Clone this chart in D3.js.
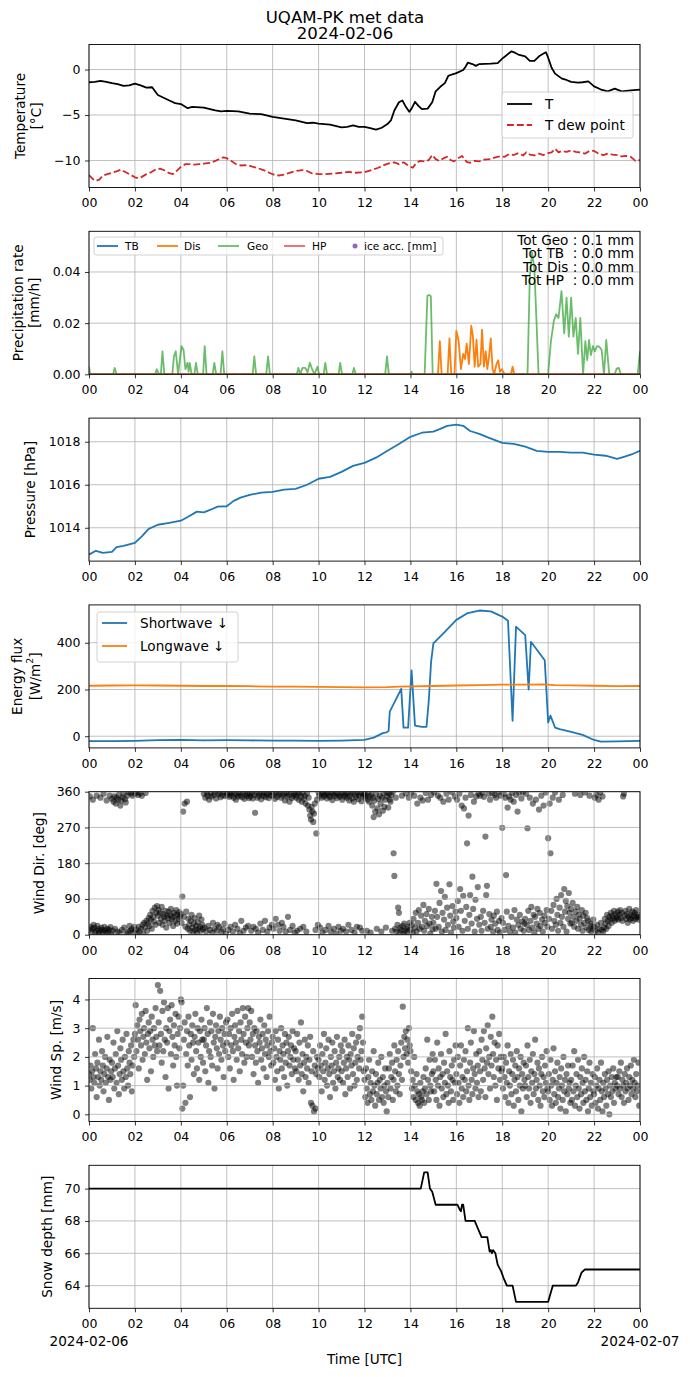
<!DOCTYPE html>
<html><head><meta charset="utf-8">
<script src="https://cdn.jsdelivr.net/npm/d3@7"></script>
<style>body{margin:0;background:#fff} text{font-family:"DejaVu Sans",sans-serif}</style>
</head><body><svg id="c" width="690" height="1377" xmlns="http://www.w3.org/2000/svg"></svg>
<script>
// ---------------- DATA ----------------
const xTickHours = [0,2,4,6,8,10,12,14,16,18,20,22,24];
const xTickLabels = ["00","02","04","06","08","10","12","14","16","18","20","22","00"];
const dateLabels = ["2024-02-06","2024-02-07"];

const tempT = [[0,-1.4],[0.25,-1.35],[0.5,-1.25],[0.75,-1.35],[1,-1.5],[1.25,-1.6],[1.5,-1.8],[1.75,-1.75],[2,-1.55],[2.25,-1.75],[2.5,-2.0],[2.75,-1.95],[3,-2.8],[3.25,-3.1],[3.5,-3.4],[3.75,-3.7],[4,-3.8],[4.3,-4.25],[4.5,-4.1],[5,-4.2],[5.5,-4.5],[5.75,-4.6],[6,-4.55],[6.5,-4.6],[7,-4.85],[7.5,-4.9],[8,-5.2],[8.5,-5.4],[9,-5.6],[9.5,-5.9],[9.75,-5.85],[10,-5.95],[10.5,-6.05],[11,-6.35],[11.25,-6.3],[11.5,-6.15],[11.75,-6.3],[12,-6.3],[12.25,-6.45],[12.5,-6.6],[12.75,-6.4],[13,-6.0],[13.15,-5.6],[13.3,-4.5],[13.5,-3.6],[13.65,-3.4],[13.8,-4.1],[13.95,-4.65],[14.05,-4.3],[14.2,-3.55],[14.35,-4.0],[14.5,-4.35],[14.75,-4.3],[14.95,-3.6],[15.1,-2.4],[15.3,-1.9],[15.5,-1.5],[15.65,-0.7],[15.8,-0.55],[16,-0.4],[16.3,-0.05],[16.4,0.3],[16.5,0.75],[16.7,0.6],[16.85,0.4],[17,0.6],[17.5,0.65],[17.8,0.7],[18,1.2],[18.2,1.6],[18.4,2.0],[18.55,1.85],[18.7,1.65],[19,1.45],[19.2,0.95],[19.4,0.95],[19.6,1.45],[19.8,1.75],[19.9,1.9],[20,1.3],[20.15,0.2],[20.3,-0.45],[20.6,-1.0],[20.8,-1.15],[21,-1.35],[21.3,-1.45],[21.5,-1.4],[21.75,-1.3],[22,-1.85],[22.3,-2.2],[22.6,-2.4],[22.9,-2.1],[23.2,-2.4],[23.6,-2.3],[24,-2.2]];
const tempTd = [[0,-11.6],[0.15,-12.0],[0.3,-12.25],[0.45,-12.1],[0.6,-11.65],[0.8,-11.5],[1,-11.35],[1.2,-11.2],[1.4,-11.0],[1.6,-11.3],[1.8,-11.55],[2,-11.85],[2.15,-11.95],[2.3,-11.8],[2.5,-11.5],[2.7,-11.3],[2.9,-11.0],[3.1,-10.9],[3.3,-11.1],[3.5,-11.4],[3.65,-11.5],[3.8,-11.2],[4,-10.7],[4.2,-10.4],[4.4,-10.4],[4.6,-10.45],[4.8,-10.4],[5,-10.35],[5.3,-10.25],[5.5,-10.05],[5.7,-9.8],[5.85,-9.65],[6,-9.75],[6.2,-10.05],[6.4,-10.4],[6.6,-10.55],[6.8,-10.5],[7,-10.6],[7.3,-10.8],[7.6,-11.05],[7.9,-11.4],[8.1,-11.6],[8.3,-11.65],[8.5,-11.55],[8.8,-11.3],[9,-11.15],[9.3,-11.05],[9.5,-11.15],[9.7,-11.4],[10,-11.5],[10.3,-11.5],[10.6,-11.45],[11,-11.35],[11.3,-11.25],[11.6,-11.35],[12,-11.3],[12.3,-11.05],[12.6,-10.8],[12.9,-10.45],[13.1,-10.3],[13.3,-10.2],[13.5,-10.4],[13.7,-10.2],[13.9,-10.55],[14.1,-10.8],[14.25,-10.3],[14.4,-10.05],[14.6,-10.1],[14.8,-9.95],[14.95,-9.4],[15.1,-9.85],[15.25,-10.05],[15.45,-9.75],[15.6,-9.6],[15.75,-9.95],[15.9,-10.1],[16.05,-9.8],[16.25,-9.5],[16.45,-10.15],[16.6,-10.25],[16.8,-10.05],[17,-10.1],[17.2,-9.9],[17.5,-9.85],[17.7,-9.65],[17.9,-9.55],[18.1,-9.6],[18.3,-9.3],[18.5,-9.4],[18.7,-9.2],[18.9,-9.45],[19.05,-9.1],[19.2,-9.35],[19.4,-9.45],[19.6,-9.25],[19.8,-9.4],[20,-9.2],[20.15,-9.1],[20.3,-8.7],[20.45,-9.1],[20.6,-8.95],[20.8,-9.05],[21,-8.9],[21.2,-9.05],[21.4,-9.1],[21.6,-9.25],[21.8,-8.95],[22,-8.95],[22.2,-9.25],[22.4,-9.4],[22.6,-9.25],[22.8,-9.35],[23,-9.4],[23.2,-9.55],[23.4,-9.5],[23.6,-9.6],[23.8,-10.05],[24,-9.95]];

const precipTB = [[0,0],[24,0]];
const precipHP = [[0,0],[24,0]];
const precipDis = [[0,0],[15.2,0],[15.28,0.013],[15.36,0],[15.62,0],[15.7,0.014],[15.78,0],[15.92,0],[16.0,0.017],[16.1,0.013],[16.2,0.002],[16.3,0.008],[16.38,0.006],[16.45,0.012],[16.55,0.004],[16.65,0.019],[16.72,0.015],[16.8,0.003],[16.88,0.0135],[16.95,0.003],[17.05,0.004],[17.12,0.0175],[17.2,0.003],[17.28,0.009],[17.35,0.002],[17.42,0.0065],[17.5,0.014],[17.58,0.002],[17.65,0],[17.75,0.004],[17.82,0.0055],[17.9,0.001],[17.98,0.002],[18.1,0],[18.38,0],[18.45,0.003],[18.52,0],[24,0]];
const precipGeo = [[0,0.003],[0.05,0],[1.05,0],[1.12,0.0025],[1.2,0],[2.88,0],[2.95,0.002],[3.05,0],[3.13,0],[3.2,0.009],[3.28,0],[3.63,0],[3.7,0.007],[3.78,0.009],[3.88,0],[4.03,0.011],[4.12,0.0095],[4.2,0.002],[4.29,0.0045],[4.34,0.001],[4.39,0.0045],[4.47,0],[4.59,0],[4.66,0.0045],[4.74,0],[4.97,0],[5.04,0.011],[5.12,0],[5.39,0],[5.46,0.0045],[5.54,0],[5.73,0],[5.81,0.009],[5.89,0],[7.13,0],[7.2,0.007],[7.28,0],[7.72,0],[7.8,0.007],[7.88,0],[9.05,0],[9.12,0.0025],[9.2,0],[9.3,0.0025],[9.42,0.0025],[9.52,0.0008],[9.62,0.0045],[9.72,0.002],[9.82,0],[9.95,0.003],[10.02,0],[10.22,0],[10.29,0.0045],[10.37,0],[10.87,0],[10.94,0.0045],[11.02,0],[11.47,0],[11.54,0.0025],[11.62,0],[12.9,0],[12.98,0.007],[13.06,0],[14.0,0],[14.05,0.001],[14.1,0],[14.62,0],[14.74,0.0308],[14.82,0.031],[14.89,0.0305],[14.97,0],[19.1,0],[19.2,0.038],[19.3,0.0476],[19.4,0.041],[19.49,0.021],[19.58,0],[20.0,0],[20.12,0.013],[20.25,0.021],[20.35,0.0235],[20.45,0.022],[20.58,0.0325],[20.7,0.016],[20.8,0.03],[20.9,0.0147],[21.0,0.03],[21.1,0.0147],[21.2,0.022],[21.3,0.008],[21.4,0.022],[21.52,0],[21.62,0.013],[21.7,0.0055],[21.78,0.0134],[21.86,0.0075],[21.95,0.011],[22.03,0.009],[22.13,0.011],[22.23,0.0108],[22.33,0.0095],[22.43,0],[22.53,0.0134],[22.66,0],[22.9,0],[22.98,0.0022],[23.08,0.0025],[23.16,0],[23.9,0],[24,0.009]];
const precipTotals = ["Tot Geo : 0.1 mm","Tot TB  : 0.0 mm","Tot Dis : 0.0 mm","Tot HP  : 0.0 mm"];
const precipNames = ["TB","Dis","Geo","HP","ice acc. [mm]"];

const pressure = [[0,1012.75],[0.3,1012.93],[0.6,1012.83],[1,1012.88],[1.2,1013.1],[1.5,1013.16],[2,1013.3],[2.3,1013.6],[2.6,1013.95],[3,1014.14],[3.5,1014.23],[4,1014.33],[4.3,1014.5],[4.7,1014.75],[5,1014.72],[5.3,1014.84],[5.6,1014.98],[6,1015.0],[6.3,1015.25],[6.6,1015.4],[7,1015.53],[7.5,1015.63],[8,1015.67],[8.5,1015.77],[9,1015.81],[9.5,1016.0],[10,1016.28],[10.5,1016.37],[11,1016.6],[11.5,1016.88],[12,1017.02],[12.5,1017.26],[13,1017.58],[13.5,1017.9],[14,1018.23],[14.5,1018.42],[15,1018.47],[15.3,1018.6],[15.6,1018.74],[16,1018.8],[16.3,1018.74],[16.6,1018.5],[17,1018.37],[17.4,1018.19],[18,1017.95],[18.5,1017.9],[19,1017.77],[19.5,1017.58],[20,1017.53],[20.5,1017.53],[21,1017.49],[21.5,1017.49],[22,1017.4],[22.5,1017.35],[23,1017.2],[23.3,1017.3],[23.7,1017.44],[24,1017.58]];

const swDown = [[0,-21],[1,-21],[2,-20],[3,-17],[4,-16],[5,-18],[6,-17],[7,-18],[8,-19],[9,-19],[10,-20],[11,-19],[12,-16],[12.4,-6],[12.8,13],[12.95,16],[13.05,23],[13.1,105],[13.6,203],[13.7,37],[13.9,37],[14.05,282],[14.2,45],[14.5,40],[14.7,40],[14.8,152],[14.9,318],[15.0,397],[15.5,447],[16,498],[16.5,527],[17,538],[17.5,534],[18,512],[18.25,494],[18.45,66],[18.6,469],[19.0,433],[19.15,200],[19.25,404],[19.85,325],[20.0,59],[20.1,88],[20.3,37],[20.5,30],[21,19],[21.5,6],[22,-16],[22.3,-23],[23,-22],[24,-20]];
const lwDown = [[0,216],[1,217],[2,218],[3,217],[4,216],[5,215],[6,215],[7,214],[8,212],[9,212],[10,211],[11,210],[12,209],[13,210],[13.5,212],[14,213],[15,215],[16,217],[17,219],[18,221],[19,221],[19.8,222],[20.3,219],[21,218],[22,216],[23,214],[24,215]];
const fluxNames = ["Shortwave \u2193","Longwave \u2193"];

// wind direction, one sample every 2 minutes (30 per hour)
const windDir = [
12,348,20,8,15,340,25,18,5,10,350,22,14,3,9,345,17,12,6,355,20,11,4,338,15,7,13,350,19,2,
342,10,335,348,15,330,345,8,340,352,5,325,338,12,346,355,18,341,333,3,350,7,358,22,10,356,14,350,6,20,
355,12,358,5,352,20,8,356,15,350,25,2,30,18,357,35,10,28,42,22,50,38,15,60,45,33,68,25,55,72,
48,62,30,55,40,70,25,52,45,35,60,18,48,42,58,30,50,65,38,44,22,55,48,35,62,28,50,40,57,45,
52,30,96,310,45,330,20,58,335,15,40,25,10,35,50,18,8,28,42,12,22,5,32,15,48,20,10,38,25,14,
355,18,345,8,358,350,22,340,12,356,348,5,30,352,15,359,343,10,25,354,20,357,346,7,351,14,359,28,349,3,
358,352,12,347,356,20,350,359,8,345,355,25,340,353,15,348,357,4,351,35,346,358,10,342,354,18,349,356,22,344,
355,348,10,357,343,20,352,307,15,359,345,5,350,356,28,341,354,12,349,358,35,346,353,8,357,344,18,351,359,25,
350,15,356,342,40,358,347,25,353,10,359,345,30,351,20,355,338,8,357,348,45,352,335,12,358,344,22,349,356,5,
352,345,10,358,340,355,15,348,335,357,20,342,350,330,8,356,325,345,315,300,290,322,310,284,305,330,12,255,340,25,
358,350,18,355,345,5,359,348,352,12,356,343,357,22,350,346,8,358,339,354,15,349,356,3,344,357,20,351,347,10,
355,340,15,358,348,352,8,345,357,25,338,350,356,12,343,359,335,5,353,347,20,358,341,351,18,356,336,10,349,354,
355,345,350,10,340,358,335,348,5,352,325,345,296,338,310,355,15,318,342,303,350,330,8,345,312,356,322,340,18,358,
348,320,355,340,335,352,10,359,205,148,15,345,8,25,68,55,5,18,12,350,22,3,28,10,356,15,7,20,345,30,
12,358,25,5,40,350,18,55,8,330,30,62,15,345,48,20,338,75,10,35,357,52,22,340,65,28,3,352,45,14,
30,358,60,15,128,45,350,20,80,345,110,8,55,335,38,95,12,355,68,25,340,127,48,5,359,72,33,18,348,58,
42,340,85,20,355,115,60,325,10,98,318,35,345,70,230,15,300,50,100,352,28,146,65,335,8,88,348,40,120,355,
25,350,45,10,358,60,347,30,247,100,123,15,355,52,340,20,38,357,8,48,352,28,345,58,12,359,35,5,350,42,
269,30,355,12,345,150,58,320,22,348,8,340,45,357,18,335,62,5,352,38,310,25,358,50,15,343,33,359,10,28,
40,355,25,268,60,12,345,35,70,18,330,50,5,45,340,28,65,15,315,55,22,350,38,8,325,48,30,358,62,20,
243,40,330,205,60,15,345,75,35,358,25,90,50,10,340,68,30,100,45,352,20,115,58,85,8,72,40,105,55,28,
65,30,80,45,20,355,58,35,70,15,50,40,352,25,62,10,48,30,358,55,18,42,35,12,350,28,8,22,15,38,
20,345,10,352,25,5,340,15,358,30,12,348,8,18,40,28,15,50,35,22,45,38,55,30,48,42,60,35,52,40,
45,58,38,50,62,42,55,35,348,355,48,60,40,52,30,45,65,38,50,42,58,35,48,55,40,62,45,50,38,44];

// wind speed, one sample every 2 minutes (30 per hour)
const windSp = [
1.4,1.2,1.7,0.9,1.5,3.0,1.3,1.1,2.1,1.6,0.6,1.8,1.3,2.6,1.0,1.5,1.2,2.2,1.7,0.8,1.4,2.0,1.1,1.6,2.7,1.3,0.5,1.9,1.2,1.5,
1.8,1.3,2.5,0.9,1.6,2.1,1.1,2.9,1.7,0.7,1.4,2.3,1.9,1.2,2.6,1.5,0.9,2.0,1.3,2.8,1.6,1.0,2.2,1.8,1.4,2.4,0.8,1.7,2.6,2.0,
2.8,3.8,2.2,3.1,2.6,1.6,3.3,2.9,2.4,3.5,1.9,2.7,3.0,2.1,3.6,2.5,1.2,2.8,3.2,2.3,2.9,1.5,3.4,2.6,2.0,3.0,2.4,3.7,2.7,2.2,
4.5,3.2,2.4,4.3,2.8,1.8,3.6,2.2,3.9,2.6,1.3,3.0,2.5,3.7,0.9,2.9,3.3,2.1,3.8,2.7,1.7,3.1,2.4,3.5,2.0,1.0,2.8,3.4,2.3,3.0,
4.0,3.9,0.2,1.0,2.6,3.2,0.4,2.1,2.9,1.7,3.4,2.4,0.6,2.8,1.9,3.1,2.5,1.4,2.7,3.5,2.2,1.6,3.0,2.5,1.2,2.9,2.0,3.3,2.6,1.8,
2.6,3.0,1.5,2.4,3.7,2.8,1.1,2.2,3.2,2.0,2.9,1.7,3.5,2.5,0.9,2.7,3.1,2.3,1.6,2.9,2.1,3.4,2.6,1.9,3.0,2.4,1.3,2.8,2.2,3.2,
2.5,3.3,2.0,2.8,1.6,3.0,2.4,3.5,2.2,1.2,2.7,3.1,2.5,1.9,3.6,2.3,2.9,1.5,3.2,2.6,2.1,3.7,2.8,1.8,3.4,2.5,2.0,3.0,3.7,2.4,
3.2,2.6,3.6,2.0,2.8,1.4,3.0,2.4,1.8,2.9,2.2,1.1,2.7,2.5,3.3,1.9,2.3,2.8,1.6,3.1,2.1,2.6,1.3,2.4,2.9,2.0,3.4,2.2,1.7,2.5,
2.7,1.8,2.3,1.2,2.9,2.0,1.5,2.6,0.9,2.2,1.9,3.0,1.6,2.4,2.1,1.3,2.8,1.8,2.5,1.0,2.2,2.7,1.7,2.0,2.4,1.4,2.9,1.9,2.3,1.6,
2.2,1.5,2.8,1.9,1.2,2.5,1.7,3.2,1.4,2.1,0.8,1.8,2.6,1.3,2.0,1.6,2.4,1.1,1.9,2.7,0.4,1.5,0.3,2.2,0.1,1.7,0.2,1.4,2.0,1.6,
1.9,1.3,2.4,1.7,0.8,2.1,1.5,2.8,1.2,1.8,2.3,1.0,1.6,2.6,1.4,0.6,2.0,1.7,2.5,1.1,1.5,2.2,0.9,1.8,2.7,1.3,1.6,2.0,1.2,2.4,
1.5,2.2,1.1,1.8,2.6,0.7,1.6,2.0,1.3,2.4,1.9,0.9,2.1,1.7,2.8,1.4,2.3,1.0,1.8,2.5,1.2,2.0,2.7,1.6,3.0,1.9,2.2,3.4,2.5,1.5,
1.2,0.6,1.6,0.9,0.4,1.3,1.9,0.7,1.1,0.5,1.5,0.8,2.2,1.0,0.3,1.4,0.7,1.1,1.8,0.5,1.2,0.9,2.0,0.6,1.3,0.4,1.0,1.6,0.8,0.1,
1.1,0.6,1.6,2.1,0.9,1.3,1.8,0.5,1.2,2.4,1.5,0.8,1.9,1.0,2.2,1.4,0.7,1.7,2.5,1.2,3.75,2.0,2.7,2.3,2.9,2.1,2.6,1.8,3.0,2.4,
2.2,1.5,0.9,1.2,0.6,2.0,1.0,0.5,1.4,0.8,0.4,0.7,0.3,1.1,0.6,0.5,0.8,1.3,0.4,0.9,1.6,0.7,2.6,1.2,0.5,1.9,1.0,0.8,1.4,2.1,
1.5,0.8,1.9,1.2,0.5,2.5,1.0,1.6,0.3,1.3,2.1,0.9,1.4,0.6,1.8,1.1,2.8,0.7,1.5,1.0,0.4,2.2,1.3,0.8,1.7,1.2,0.5,1.9,1.1,2.4,
1.4,0.7,2.0,1.1,0.4,1.7,2.4,0.9,1.3,0.6,1.9,1.2,2.2,0.8,1.5,3.0,1.0,0.5,1.8,2.5,1.2,0.7,1.6,2.9,1.4,0.9,2.1,1.1,1.7,0.6,
2.2,1.5,0.8,2.6,1.9,1.2,2.9,1.6,0.6,2.3,1.8,3.1,1.4,2.0,0.9,2.7,1.7,3.4,2.1,1.3,2.5,1.0,1.9,0.5,2.4,1.6,2.8,1.2,2.0,1.5,
1.6,0.9,2.0,1.3,0.6,1.8,1.1,2.4,0.4,1.5,1.0,2.1,0.7,1.4,1.9,0.3,1.2,1.7,0.8,2.2,1.3,0.5,1.6,1.0,2.0,0.1,1.4,0.9,1.8,1.2,
1.0,1.7,0.6,2.4,1.3,0.9,1.9,0.4,1.5,1.1,2.1,0.7,1.4,2.6,0.9,1.2,1.8,0.5,1.6,1.0,0.3,1.4,2.0,0.8,1.3,0.6,1.7,1.1,2.2,0.9,
0.8,1.4,0.5,1.9,1.0,0.3,1.2,2.3,0.7,1.5,0.4,1.1,1.8,0.6,0.9,1.3,0.2,1.6,1.0,0.5,2.0,0.8,1.2,0.1,1.4,0.7,1.7,0.9,1.1,0.4,
1.2,0.5,1.7,0.8,2.2,0.3,1.0,1.4,0.6,1.9,0.9,0.2,1.3,0.7,1.6,1.1,0.4,2.0,0.8,1.2,0.5,1.5,0.1,0.9,1.8,0.6,1.1,0.3,1.4,0.8,
0.7,1.3,0.4,1.0,1.6,0.2,0.9,1.2,0.5,1.8,0.8,0.1,1.1,0.6,1.4,0.9,0.3,1.2,0.7,1.5,0.0,1.0,0.6,1.3,0.8,1.6,0.4,1.1,0.9,1.3,
1.0,1.3,0.7,1.5,0.9,1.8,0.6,1.2,1.0,0.4,1.4,0.8,1.1,1.6,0.9,0.5,1.3,1.0,1.7,0.7,1.2,0.9,1.9,1.1,0.6,1.4,0.8,1.0,1.8,0.3];

const snowDepth = [[0,70],[14.45,70],[14.6,71],[14.75,71],[14.85,70],[14.95,69.8],[15.1,69],[16.05,69],[16.15,68.7],[16.2,68.6],[16.25,69],[16.3,69],[16.4,68],[16.8,68],[16.95,67.5],[17.1,67],[17.35,67],[17.45,66.1],[17.5,66.2],[17.55,66.0],[17.6,66.2],[17.7,66],[17.8,65.3],[17.95,64.9],[18.05,64.5],[18.2,64],[18.45,64],[18.6,63],[20.0,63],[20.2,64],[21.2,64],[21.3,64.2],[21.45,64.8],[21.6,65],[24,65]];

// ---------------- LAYOUT ----------------
const FS = 12.5;   // tick labels
const LFS = 13.6;  // axis labels, legends, annotations
const svg = d3.select('#c');
const X0 = 89, X1 = 640, PH = 143;
const tops = d3.range(7).map(i => 44.5 + i * 186.8);
const x = d3.scaleLinear().domain([0, 24]).range([X0, X1]);
const minus = v => (v < 0 ? '\u2212' + Math.abs(v) : String(v));

function makePanel(i, dom, ticks, fmt, dataBelowGrid) {
  const top = tops[i], bot = top + PH;
  const y = d3.scaleLinear().domain(dom).range([bot, top]);
  const cid = 'clip' + i;
  svg.append('clipPath').attr('id', cid).append('rect').attr('x', X0).attr('y', top).attr('width', X1 - X0).attr('height', PH);
  let plot;
  if (dataBelowGrid) plot = svg.append('g').attr('clip-path', `url(#${cid})`);
  const grid = svg.append('g').attr('stroke', '#b0b0b0').attr('stroke-width', 0.8);
  grid.selectAll('.gx').data(xTickHours).join('line').attr('class', 'gx')
    .attr('x1', d => x(d)).attr('x2', d => x(d)).attr('y1', top).attr('y2', bot);
  grid.selectAll('.gy').data(ticks).join('line').attr('class', 'gy')
    .attr('x1', X0).attr('x2', X1).attr('y1', d => y(d)).attr('y2', d => y(d));
  if (!dataBelowGrid) plot = svg.append('g').attr('clip-path', `url(#${cid})`);
  const axes = svg.append('g');
  const ax = axes.append('g').attr('transform', `translate(0,${bot})`)
    .call(d3.axisBottom(x).tickValues(xTickHours).tickFormat((d, j) => xTickLabels[j]).tickSize(4).tickPadding(7).tickSizeOuter(0));
  const ay = axes.append('g').attr('transform', `translate(${X0},0)`)
    .call(d3.axisLeft(y).tickValues(ticks).tickFormat(fmt).tickSize(4).tickPadding(4.5).tickSizeOuter(0));
  [ax, ay].forEach(a => {
    a.select('.domain').remove();
    a.attr('font-family', '"DejaVu Sans", sans-serif').attr('font-size', FS);
    a.selectAll('text').attr('fill', '#000');
    a.selectAll('line').attr('stroke', '#000').attr('stroke-width', 0.8);
  });
  axes.append('rect').attr('x', X0).attr('y', top).attr('width', X1 - X0).attr('height', PH)
    .attr('fill', 'none').attr('stroke', '#000').attr('stroke-width', 0.9);
  return { plot, y, top, bot, axes };
}

function yLabel(lines, xs, top) {
  const cy = top + PH / 2;
  lines.forEach((ln, k) => {
    const t = svg.append('text').attr('transform', `translate(${xs[k]},${cy}) rotate(-90)`)
      .attr('text-anchor', 'middle').attr('dominant-baseline', 'central').attr('font-size', LFS).attr('fill', '#000');
    if (Array.isArray(ln)) {
      t.append('tspan').text(ln[0]);
      t.append('tspan').attr('baseline-shift', 'super').attr('font-size', LFS * 0.7).text(ln[1]);
      t.append('tspan').text(ln[2]);
    } else t.text(ln);
  });
}

function line(plot, data, y, color, opts = {}) {
  plot.append('path').datum(data)
    .attr('d', d3.line().x(d => x(d[0])).y(d => y(d[1])))
    .attr('fill', 'none').attr('stroke', color).attr('stroke-width', opts.w || 1.8)
    .attr('stroke-opacity', opts.op || 1).attr('stroke-dasharray', opts.dash || null)
    .attr('stroke-linejoin', 'round');
}

function legendBox(x0, y0, w, h) {
  svg.append('rect').attr('x', x0).attr('y', y0).attr('width', w).attr('height', h).attr('rx', 2.5)
    .attr('fill', '#fff').attr('fill-opacity', 0.8).attr('stroke', '#cccccc').attr('stroke-width', 0.9);
}

// Title
svg.append('text').attr('x', 345).attr('y', 22.5).attr('text-anchor', 'middle').attr('font-size', 16.6).text('UQAM-PK met data');
svg.append('text').attr('x', 345).attr('y', 39.3).attr('text-anchor', 'middle').attr('font-size', 16.6).text(dateLabels[0]);

// Panel 1: temperature
{
  const p = makePanel(0, [-12.97, 2.75], [-10, -5, 0], minus);
  line(p.plot, tempT, p.y, '#000');
  line(p.plot, tempTd, p.y, '#d62728', { dash: '6.9,3' });
  yLabel(['Temperature', '[\u00b0C]'], [20, 36], p.top);
  legendBox(502, 92, 131, 46);
  svg.append('line').attr('x1', 507).attr('x2', 532).attr('y1', 104).attr('y2', 104).attr('stroke', '#000').attr('stroke-width', 1.8);
  svg.append('line').attr('x1', 507).attr('x2', 532).attr('y1', 125).attr('y2', 125).attr('stroke', '#d62728').attr('stroke-width', 1.8).attr('stroke-dasharray', '6.9,3');
  svg.append('text').attr('x', 545).attr('y', 109).attr('font-size', LFS).text('T');
  svg.append('text').attr('x', 545).attr('y', 130).attr('font-size', LFS).text('T dew point');
}

// Panel 2: precipitation
{
  const p = makePanel(1, [0, 0.0559], [0, 0.02, 0.04], d3.format('.2f'));
  line(p.plot, precipTB, p.y, '#1f77b4');
  line(p.plot, precipDis, p.y, '#ff7f0e');
  line(p.plot, precipGeo, p.y, '#2ca02c', { op: 0.7 });
  line(p.plot, precipHP, p.y, '#d62728', { op: 0.7 });
  yLabel(['Precipitation rate', '[mm/h]'], [18, 34], p.top);
  legendBox(94, 237, 349, 18);
  const cols = ['#1f77b4', '#ff7f0e', '#2ca02c', '#d62728'];
  const lx = [97, 157, 218, 284];
  const tx = [125, 184, 247, 312];
  cols.forEach((c, k) => {
    svg.append('line').attr('x1', lx[k]).attr('x2', lx[k] + 21).attr('y1', 246).attr('y2', 246)
      .attr('stroke', c).attr('stroke-width', 1.8).attr('stroke-opacity', k >= 2 ? 0.7 : 1);
    svg.append('text').attr('x', tx[k]).attr('y', 249.8).attr('font-size', 10.6).text(precipNames[k]);
  });
  svg.append('circle').attr('cx', 355).attr('cy', 246).attr('r', 2.5).attr('fill', '#9467bd');
  svg.append('text').attr('x', 364).attr('y', 249.8).attr('font-size', 10.6).text(precipNames[4]);
  precipTotals.forEach((t, k) => {
    svg.append('text').attr('x', 634).attr('y', 244.5 + k * 13.6).attr('text-anchor', 'end')
      .attr('font-size', LFS).style('white-space', 'pre').attr('xml:space', 'preserve').text(t);
  });
}

// Panel 3: pressure
{
  const p = makePanel(2, [1012.45, 1019.1], [1014, 1016, 1018], d3.format('d'));
  line(p.plot, pressure, p.y, '#1f77b4');
  yLabel(['Pressure [hPa]'], [30], p.top);
}

// Panel 4: energy flux
{
  const p = makePanel(3, [-50, 562], [0, 200, 400], d3.format('d'));
  line(p.plot, swDown, p.y, '#1f77b4');
  line(p.plot, lwDown, p.y, '#ff7f0e');
  yLabel(['Energy flux', ['[W/m', '2', ']']], [17, 35], p.top);
  legendBox(97, 612, 141, 50);
  [['#1f77b4', 623], ['#ff7f0e', 646]].forEach(([c, yy], k) => {
    svg.append('line').attr('x1', 102).attr('x2', 127).attr('y1', yy).attr('y2', yy).attr('stroke', c).attr('stroke-width', 1.8);
    svg.append('text').attr('x', 140).attr('y', yy + 5).attr('font-size', LFS).text(fluxNames[k]);
  });
}

// Panel 5: wind direction
{
  const p = makePanel(4, [0, 360], [0, 90, 180, 270, 360], d3.format('d'), true);
  const n = windDir.length;
  p.plot.selectAll('circle').data(windDir).join('circle')
    .attr('cx', (d, i) => x(i * 24 / n)).attr('cy', d => p.y(d)).attr('r', 3.1)
    .attr('fill', '#000').attr('fill-opacity', 0.5);
  yLabel(['Wind Dir. [deg]'], [39], p.top);
}

// Panel 6: wind speed
{
  const p = makePanel(5, [-0.25, 4.73], [0, 1, 2, 3, 4], d3.format('d'), true);
  const n = windSp.length;
  p.plot.selectAll('circle').data(windSp).join('circle')
    .attr('cx', (d, i) => x(i * 24 / n)).attr('cy', d => p.y(d)).attr('r', 3.1)
    .attr('fill', '#000').attr('fill-opacity', 0.5);
  yLabel(['Wind Sp. [m/s]'], [56], p.top);
}

// Panel 7: snow depth
{
  const p = makePanel(6, [62.6, 71.44], [64, 66, 68, 70], d3.format('d'));
  line(p.plot, snowDepth, p.y, '#000');
  yLabel(['Snow depth [mm]'], [47], p.top);
  svg.append('text').attr('x', x(0)).attr('y', p.bot + 37.5).attr('text-anchor', 'middle').attr('font-size', LFS).text(dateLabels[0]);
  svg.append('text').attr('x', x(24)).attr('y', p.bot + 37.5).attr('text-anchor', 'middle').attr('font-size', LFS).text(dateLabels[1]);
  svg.append('text').attr('x', (X0 + X1) / 2).attr('y', p.bot + 56).attr('text-anchor', 'middle').attr('font-size', LFS).text('Time [UTC]');
}
</script></body></html>
